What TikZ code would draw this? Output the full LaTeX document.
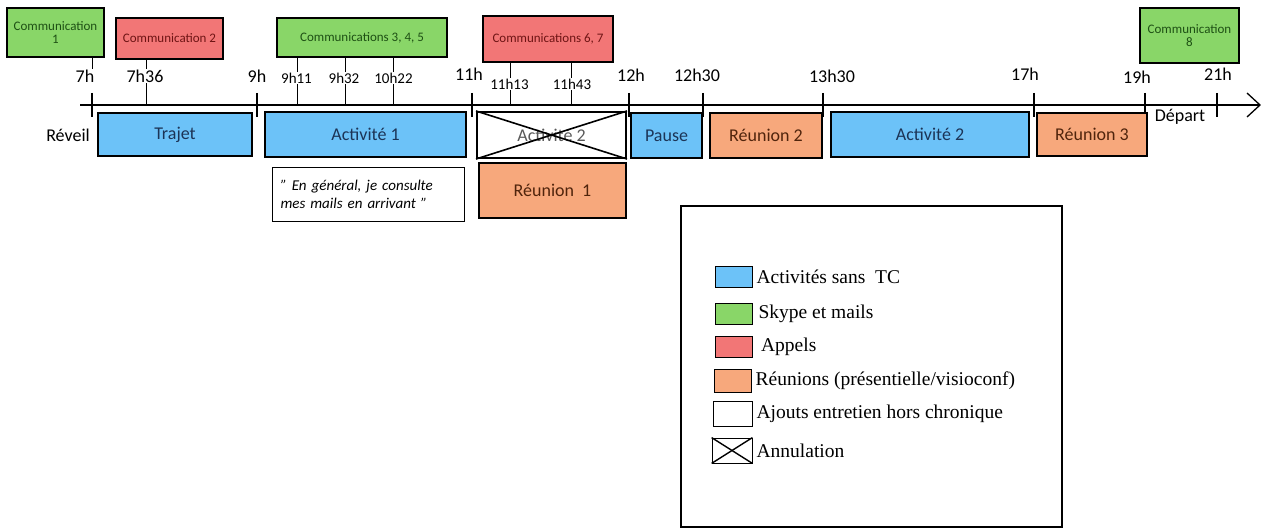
\documentclass[tikz,border=0pt]{standalone}
\usepackage{fontspec}
\setmainfont{Carlito}
\newfontfamily\legfont{Liberation Serif}
\usetikzlibrary{positioning}
\definecolor{bleu}{RGB}{108,194,248}
\definecolor{vert}{RGB}{137,214,104}
\definecolor{rouge}{RGB}{242,118,118}
\definecolor{orange}{RGB}{247,168,124}
\definecolor{txtbleu}{RGB}{28,52,86}
\definecolor{txtvert}{RGB}{30,80,20}
\definecolor{txtrouge}{RGB}{110,20,20}
\definecolor{txtorange}{RGB}{80,36,12}
\newcommand{\taille}[1]{\fontsize{#1}{#1}\selectfont}
\begin{document}
\begin{tikzpicture}[x=1pt, y=-1pt,
    boite/.style={draw, line width=1.1pt, inner sep=0pt, align=center},
    activite/.style={boite, fill=bleu, text=txtbleu, font=\taille{18}},
    reunion/.style={boite, fill=orange, text=txtorange, font=\taille{18}},
    skype/.style={boite, fill=vert, text=txtvert, font=\taille{13}},
    appel/.style={boite, fill=rouge, text=txtrouge, font=\taille{13}},
    heure/.style={fill=white, inner sep=1pt, font=\taille{18}},
    petiteheure/.style={fill=white, inner sep=1pt, font=\taille{15}},
    legcase/.style={draw, line width=0.8pt, inner sep=0pt, minimum width=37, minimum height=21},
    legtexte/.style={right=4pt of #1, inner sep=0pt, font=\legfont\taille{19.5}}]
    \useasboundingbox (0,0) rectangle (1267,529);

    %axe du temps et graduations
    \coordinate (debut) at (80,105);
    \coordinate (fin) at (1260,105);
    \draw[line width=1.3pt] (debut) -- (fin);
    \draw[line width=1.3pt] (1247,93) -- (fin) -- (1247,117);
    \coordinate (t7) at (92,105);
    \coordinate (t736) at (146,105);
    \coordinate (t9) at (257,105);
    \coordinate (t911) at (297,105);
    \coordinate (t932) at (345,105);
    \coordinate (t1022) at (393,105);
    \coordinate (t11) at (472,105);
    \coordinate (t1113) at (510,105);
    \coordinate (t1143) at (571,105);
    \coordinate (t12) at (629,105);
    \coordinate (t1230) at (703,105);
    \coordinate (t1330) at (823,105);
    \coordinate (t17) at (1034,105);
    \coordinate (t19) at (1145,105);
    \coordinate (t21) at (1217,105);
    \foreach \t in {t7,t9,t11,t12,t1230,t1330,t17,t19,t21}
        \draw[line width=1.3pt] ([yshift=12pt]\t) -- ([yshift=-12pt]\t);

    %communications au-dessus de l'axe
    \node[skype, minimum width=97, minimum height=49] (com1) at (55.5,32.5) {Communication\\1};
    \node[appel, minimum width=107, minimum height=41] (com2) at (169.5,38.5) {Communication 2};
    \node[skype, minimum width=170, minimum height=39] (com345) at (362,37.5) {Communications 3, 4, 5};
    \node[appel, minimum width=130, minimum height=46] (com67) at (548,39) {Communications 6, 7};
    \node[skype, minimum width=99, minimum height=55] (com8) at (1189.5,35.5) {Communication\\8};

    %activites sous l'axe
    \node[activite, minimum width=154, minimum height=43] (trajet) at (175,134.5) {Trajet};
    \node[activite, minimum width=201, minimum height=45] (act1) at (365.5,134.5) {Activité 1};
    \node[boite, line width=2pt, minimum width=149, minimum height=46, text=black!65, font=\taille{18}] (act2x) at (551.5,135) {Activité 2};
    \draw[line width=1.6pt] (act2x.north west) -- (act2x.south east);
    \draw[line width=1.6pt] (act2x.south west) -- (act2x.north east);
    \node[activite, minimum width=71, minimum height=45] (pause) at (666.5,135.5) {Pause};
    \node[reunion, minimum width=112, minimum height=45] (reu2) at (766,135.5) {Réunion 2};
    \node[activite, minimum width=198, minimum height=45] (act2) at (930,134.5) {Activité 2};
    \node[reunion, minimum width=110, minimum height=43] (reu3) at (1092,134.5) {Réunion 3};
    \node[reunion, minimum width=147, minimum height=55] (reu1) at (552.5,190.5) {Réunion\ \ 1};
    \node[draw, line width=0.8pt, text width=176, inner xsep=8, minimum height=54, align=left, font=\itshape\taille{15}] (citation) at (368.5,194) {" En général, je consulte\\[3pt]mes mails en arrivant "};
    \node[font=\taille{18}] (reveil) at (68,135) {Réveil};
    \node[font=\taille{18}] (depart) at (1180,117) {Départ};

    %traits des communications
    \draw[line width=0.8pt] (com1.south -| t7) -- ++(0,11);
    \draw[line width=0.8pt] (com2.south -| t736) -- (t736);
    \foreach \t in {t911,t932,t1022}
        \draw[line width=0.8pt] (com345.south -| \t) -- (\t);
    \foreach \t in {t1113,t1143}
        \draw[line width=0.8pt] (com67.south -| \t) -- (\t);

    %heures
    \node[heure] (h7) at (85,76) {7h};
    \node[heure] (h736) at (145,76) {7h36};
    \node[heure] (h9) at (257,76) {9h};
    \node[petiteheure] (h911) at (296.5,78) {9h11};
    \node[petiteheure] (h932) at (344,78) {9h32};
    \node[petiteheure] (h1022) at (393.5,78) {10h22};
    \node[heure] (h11) at (469,74) {11h};
    \node[petiteheure] (h1113) at (509.5,84) {11h13};
    \node[petiteheure] (h1143) at (572,84) {11h43};
    \node[heure] (h12) at (631,75) {12h};
    \node[heure] (h1230) at (697,75) {12h30};
    \node[heure] (h1330) at (832,76) {13h30};
    \node[heure] (h17) at (1025,74) {17h};
    \node[heure] (h19) at (1137,77) {19h};
    \node[heure] (h21) at (1218,74) {21h};

    %legende
    \node[draw, line width=1.8pt, minimum width=381, minimum height=321] (legende) at (871.5,366.5) {};
    \node[legcase, fill=bleu] (leg1) at (733.5,277) {};
    \node[legtexte=leg1] (legt1) {Activités sans\ \ TC};
    \node[legcase, fill=vert] (leg2) at (733.5,313.5) {};
    \node[legtexte=leg2, xshift=2pt] (legt2) {Skype et mails};
    \node[legcase, fill=rouge] (leg3) at (734,347) {};
    \node[legtexte=leg3, xshift=4pt] (legt3) {Appels};
    \node[legcase, fill=orange, minimum height=23] (leg4) at (732.5,381) {};
    \node[legtexte=leg4] (legt4) {Réunions (présentielle/visioconf)};
    \node[legcase, minimum height=25, minimum width=39] (leg5) at (732.5,413.5) {};
    \node[legtexte=leg5] (legt5) {Ajouts entretien hors chronique};
    \node[legcase, minimum height=25, minimum width=40] (leg6) at (732,450.5) {};
    \draw[line width=1.4pt] (leg6.north west) -- (leg6.south east);
    \draw[line width=1.4pt] (leg6.south west) -- (leg6.north east);
    \node[legtexte=leg6] (legt6) {Annulation};
\end{tikzpicture}
\end{document}
